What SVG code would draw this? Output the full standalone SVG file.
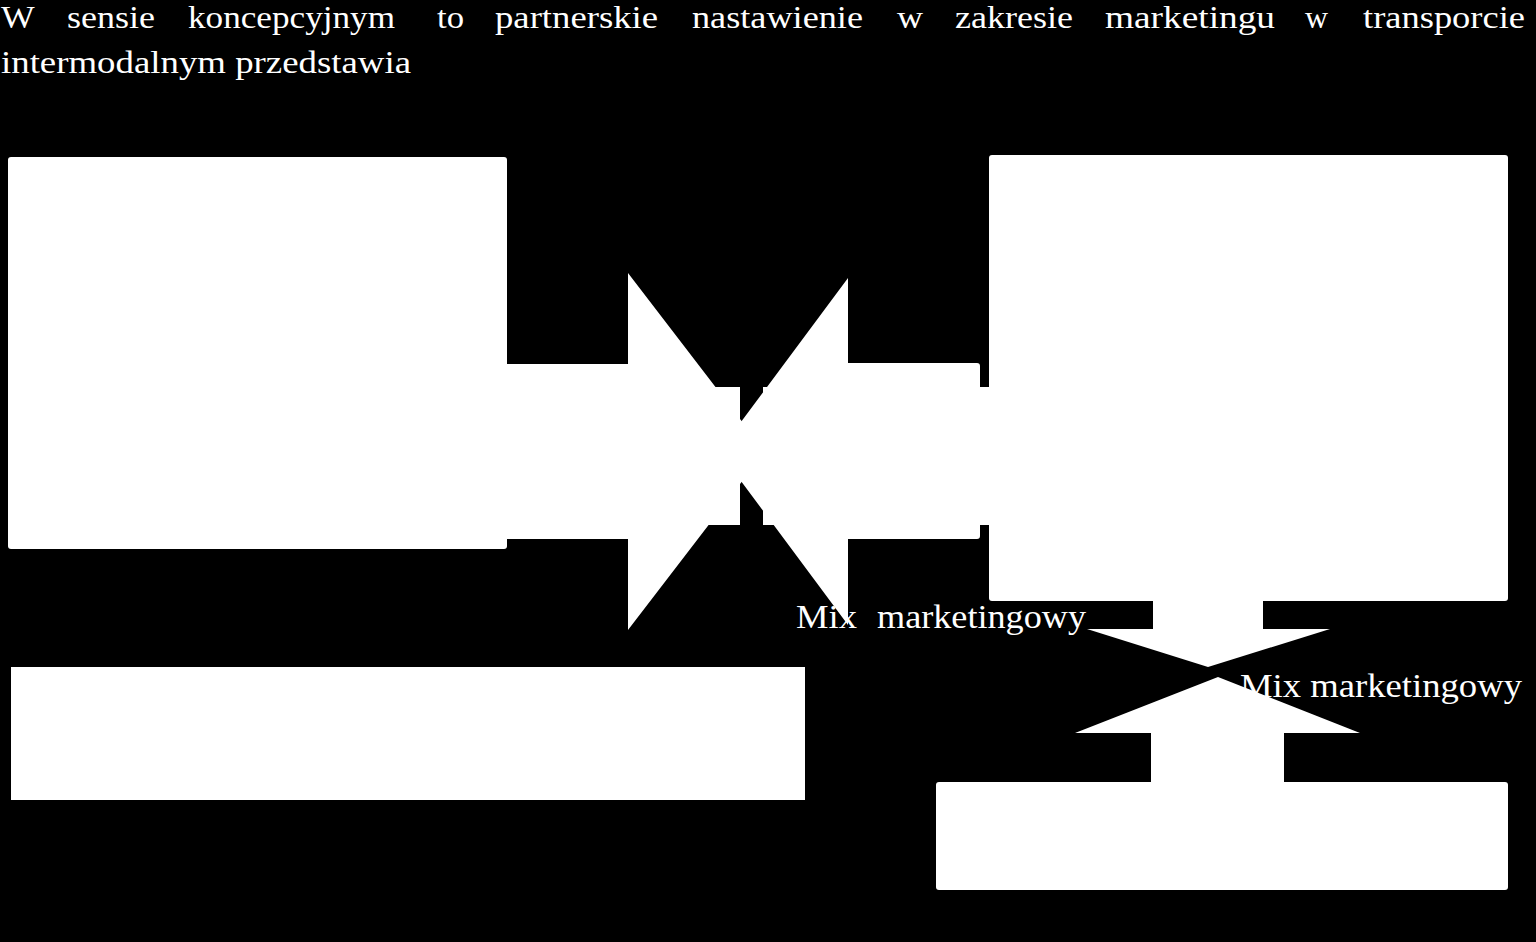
<svg xmlns="http://www.w3.org/2000/svg" width="1536" height="942" viewBox="0 0 1536 942">
  <style>
    .bg { fill: #000000; }
    .node { fill: #ffffff; }
    .conn { fill: #ffffff; }
    .txt { font-family: "Liberation Serif", "Times New Roman", serif; fill: #ffffff; }
    .hdr { font-size: 32px; }
    .lbl { font-size: 34px; }
  </style>
  <rect class="bg" x="0" y="0" width="1536" height="942"/>

  <g id="header" class="txt hdr">
    <text y="28">
      <tspan x="1" textLength="33" lengthAdjust="spacingAndGlyphs">W</tspan>
      <tspan x="67" textLength="88" lengthAdjust="spacingAndGlyphs">sensie</tspan>
      <tspan x="188" textLength="207" lengthAdjust="spacingAndGlyphs">koncepcyjnym</tspan>
      <tspan x="437" textLength="27" lengthAdjust="spacingAndGlyphs">to</tspan>
      <tspan x="495" textLength="163" lengthAdjust="spacingAndGlyphs">partnerskie</tspan>
      <tspan x="692" textLength="171" lengthAdjust="spacingAndGlyphs">nastawienie</tspan>
      <tspan x="897" textLength="26" lengthAdjust="spacingAndGlyphs">w</tspan>
      <tspan x="955" textLength="118" lengthAdjust="spacingAndGlyphs">zakresie</tspan>
      <tspan x="1105" textLength="170" lengthAdjust="spacingAndGlyphs">marketingu</tspan>
      <tspan x="1305" textLength="23" lengthAdjust="spacingAndGlyphs">w</tspan>
      <tspan x="1363" textLength="162" lengthAdjust="spacingAndGlyphs">transporcie</tspan>
    </text>
    <text x="1" y="73" textLength="410" lengthAdjust="spacingAndGlyphs">intermodalnym przedstawia</text>
  </g>

  <g id="box-left">
    <rect class="node" x="8" y="157" width="499" height="392" rx="3"/>
  </g>
  <g id="box-right">
    <rect class="node" x="989" y="155" width="519" height="446" rx="3"/>
  </g>
  <g id="box-bottom-left">
    <rect class="node" x="11" y="667" width="794" height="133"/>
  </g>
  <g id="box-bottom-right">
    <rect class="node" x="936" y="782" width="572" height="108" rx="3"/>
  </g>

  <g id="connectors" class="conn">
    <polygon id="arrow-right" points="505,364 628,364 628,273 765,451.5 628,630 628,539 505,539"/>
    <path id="arrow-left" d="M977,363 Q980,363 980,366 L980,536 Q980,539 977,539 L848,539 L848,625 L719,451.5 L848,278 L848,363 Z"/>
    <rect id="bar-left" x="708" y="387" width="32" height="138"/>
    <rect id="bar-right" x="763" y="387" width="230" height="138"/>
    <polygon id="arrow-down" points="1153,598 1263,598 1263,629 1330,629 1208,667 1087,629 1153,629"/>
    <polygon id="arrow-up" points="1151,785 1284,785 1284,733 1360,733 1218,677 1075,733 1151,733"/>
  </g>

  <g id="labels" class="txt lbl">
    <text y="628">
      <tspan x="796" textLength="61" lengthAdjust="spacingAndGlyphs">Mix</tspan>
      <tspan x="877" textLength="209" lengthAdjust="spacingAndGlyphs">marketingowy</tspan>
    </text>
    <text x="1240" y="697" textLength="282" lengthAdjust="spacingAndGlyphs">Mix marketingowy</text>
  </g>
</svg>
